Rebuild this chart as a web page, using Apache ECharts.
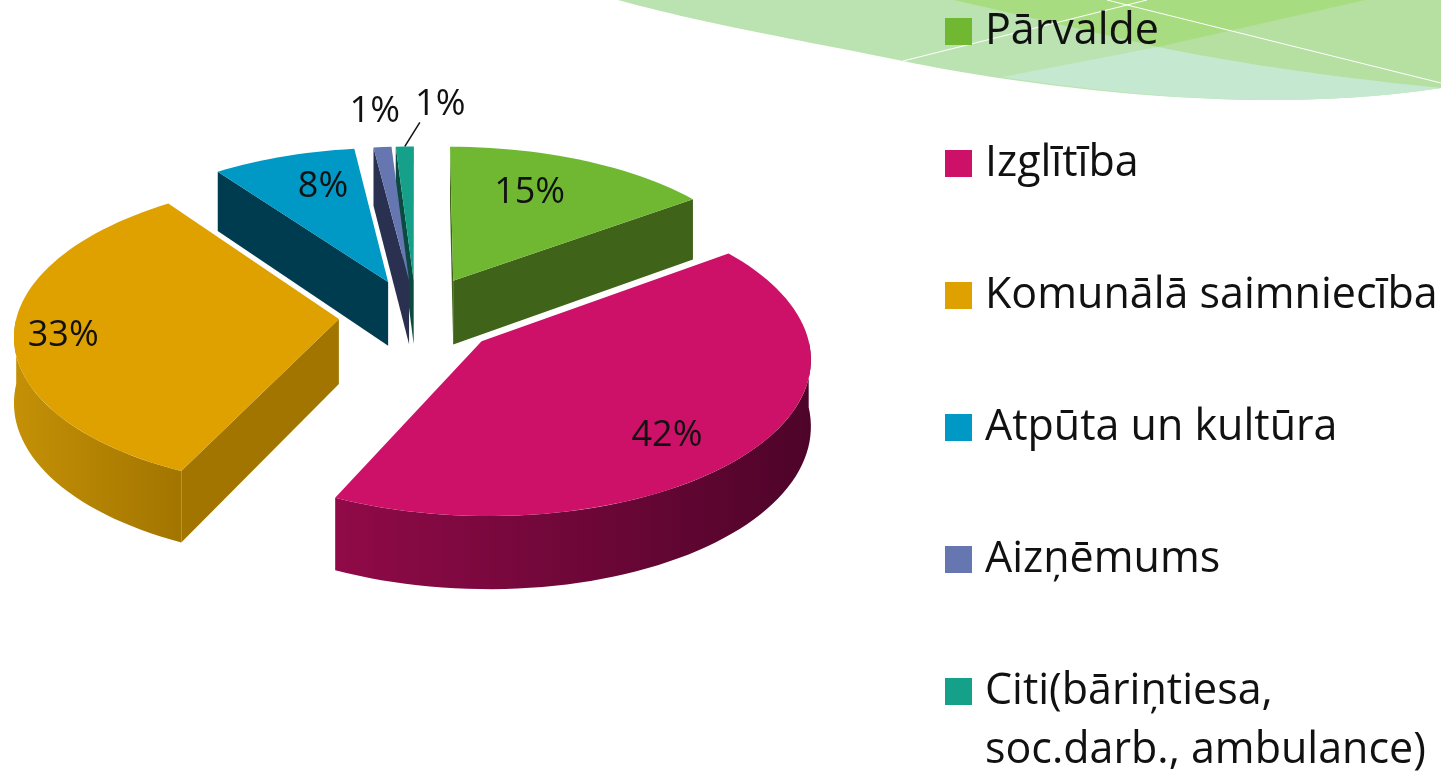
<!DOCTYPE html>
<html><head><meta charset="utf-8">
<style>html,body{margin:0;padding:0;background:#fff}#c{width:1441px;height:773px}</style>
<script src="https://cdn.jsdelivr.net/npm/echarts@6/dist/echarts.min.js"></script>
</head><body><div id="c"></div>
<script>
const categories = ['Pārvalde','Izglītība','Komunālā saimniecība','Atpūta un kultūra','Aizņēmums','Citi(bāriņtiesa,\nsoc.darb., ambulance)'];
const values = [15,42,33,8,1,1];
const topColors = ['#70b832','#cd1068','#dfa100','#0098c5','#6676b0','#15a08a'];
const wallColors = ['#3f6319','#5e0530','#a27500','#003c4f','#2a3050','#0b4a40'];
const rimFrom = ['#3f6319','#900a48','#c49006','#003c4f','#2a3050','#0b4a40'];
const rimTo = ['#3f6319','#4e0429','#a27500','#003c4f','#2a3050','#0b4a40'];
const explode = [.26,.26,.24,.24,.235,.235];
const labelAngle = [22.5,137,262.5,342,354.5,4];
const labelRadius = [.69,.77,.85,.73,1.3,1.35];
const drawOrder = [3,5,4,2,1,0];

const FONT = 'Open Sans';
const Cx=416, Cy=315.5, rx=322, ry=153, k=.095, H=65;
const total = values.reduce((a,b)=>a+b,0);
const rad = d=>d*Math.PI/180;
function proj(u,v){const s=1/(1+k*v);return [Cx+rx*u*s,Cy-ry*v*s,s];}
function sliceAngles(i){let a=0;for(let j=0;j<i;j++)a+=values[j];return [a/total*360,(a+values[i])/total*360];}
function pt(i,deg,r){
  const [a,b]=sliceAngles(i);const m=rad((a+b)/2),t=rad(deg);
  return proj(explode[i]*Math.sin(m)+r*Math.sin(t),explode[i]*Math.cos(m)+r*Math.cos(t));
}
const down=p=>[p[0],p[1]+H*p[2]];
const xy=p=>[p[0],p[1]];
function arc(i,a,b){const n=Math.max(2,Math.ceil((b-a)/2));const out=[];for(let q=0;q<=n;q++)out.push(pt(i,a+(b-a)*q/n,1));return out;}

function renderSlice(i){
  const [a,b]=sliceAngles(i);
  const A=pt(i,0,0),rim=arc(i,a,b),M=pt(i,(a+b)/2,1);
  const kids=[];
  [rim[0],rim[rim.length-1]].forEach(B=>{
    let nx=-(B[1]-A[1]),ny=B[0]-A[0];
    if(nx*(M[0]-A[0])+ny*(M[1]-A[1])>0){nx=-nx;ny=-ny;}
    if(ny>0.5){
      kids.push({type:'polygon',shape:{points:[xy(A),xy(B),down(B),down(A)]},style:{fill:wallColors[i]}});
    }
  });
  const ra=Math.max(a,90),rb=Math.min(b,270);
  if(rb>ra){
    const f=arc(i,ra,rb);
    const pts=f.map(xy).concat(f.slice().reverse().map(p=>down(p)));
    const xs=f.map(p=>p[0]);
    const x0=Math.min(...xs),x1=Math.max(...xs);
    const stops=[{offset:0,color:rimFrom[i]},{offset:1,color:rimTo[i]}];
    kids.push({type:'polygon',shape:{points:pts},style:{fill:{type:'linear',global:true,x:x0,y:0,x2:x1,y2:0,colorStops:stops}}});
  }
  kids.push({type:'polygon',shape:{points:[xy(A)].concat(rim.map(xy))},style:{fill:topColors[i]}});
  const L=pt(i,labelAngle[i],labelRadius[i]);
  kids.push({type:'text',z2:50,style:{text:values[i]+'%',x:L[0],y:L[1],align:'center',verticalAlign:'middle',font:'36px "'+FONT+'"',fill:'#111'}});
  if(i===5){
    const p0=pt(i,(a+b)/2,1),p1=pt(i,1,1.2);
    kids.push({type:'line',shape:{x1:p0[0],y1:p0[1],x2:p1[0],y2:p1[1]},style:{stroke:'#111',lineWidth:1.5}});
  }
  return {type:'group',children:kids};
}

function cubic(p0,c1,c2,p1){const o=[];for(let t=0;t<=1.0001;t+=.04){const m=1-t;o.push([m*m*m*p0[0]+3*m*m*t*c1[0]+3*m*t*t*c2[0]+t*t*t*p1[0],m*m*m*p0[1]+3*m*m*t*c1[1]+3*m*t*t*c2[1]+t*t*t*p1[1]]);}return o;}
const edgeA=cubic([618,0],[700,23],[810,42],[903,61]);
const edgeB=cubic([903,61],[1000,81],[1140,100],[1270,100]);
const edgeC=cubic([1270,100],[1330,100],[1390,96],[1441,88]);
const edgeB2=cubic([1002,77],[1090,90],[1180,100],[1270,100]);
const inner=cubic([1158,47],[1240,64],[1340,78],[1441,88]);
const swoosh=[
 {pts:edgeA.concat(edgeB,edgeC,[[1441,0]]),c:'#bbe3b1'},
 {pts:[[1366,0],...inner,[1441,0]],c:'#b5e0a2'},
 {pts:[...edgeB2,...edgeC,...inner.slice().reverse()],c:'#c5e8d0'},
 {pts:[[954,0],[1158,47],[1366,0]],c:'#a8dc80'}
];
const graphics=swoosh.map(s=>({type:'polygon',silent:true,z:0,shape:{points:s.pts},style:{fill:s.c}}));
graphics.push({type:'line',z:0,silent:true,shape:{x1:903,y1:61,x2:1147,y2:0},style:{stroke:'#fff',lineWidth:1}});
graphics.push({type:'line',z:0,silent:true,shape:{x1:1107,y1:0,x2:1441,y2:83},style:{stroke:'#fff',lineWidth:1}});
graphics.push({type:'text',z:20,silent:true,style:{text:categories[5].split('\n')[1],x:985,y:751,verticalAlign:'middle',font:'43px "'+FONT+'"',fill:'#111'}});

const chart=echarts.init(document.getElementById('c'),null,{renderer:'canvas'});
chart.setOption({
  animation:false,
  backgroundColor:'#fff',
  graphic:{elements:graphics},
  legend:{
    orient:'vertical',left:945,top:10,padding:0,itemWidth:27,itemHeight:27,itemGap:89,icon:'rect',selectedMode:false,z:10,
    formatter:n=>n.split('\n')[0],
    textStyle:{fontFamily:FONT,fontSize:43,color:'#111',padding:[0,0,3,8]},
    data:categories
  },
  series:categories.map((n,i)=>({
    type:'custom',name:n,coordinateSystem:'none',z:3+drawOrder[i],silent:true,
    itemStyle:{color:topColors[i]},
    data:[values[i]],
    renderItem:()=>renderSlice(i)
  }))
});
</script></body></html>
